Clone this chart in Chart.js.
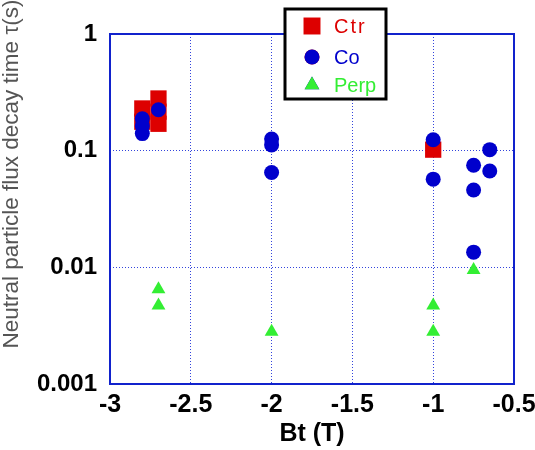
<!DOCTYPE html>
<html>
<head>
<meta charset="utf-8">
<script src="https://cdn.jsdelivr.net/npm/chart.js@4/dist/chart.umd.min.js"></script>
<style>
  body { margin: 0; background: #fff; }
  #wrap { width: 535px; height: 450px; }
</style>
</head>
<body>
<div id="wrap"><canvas id="decay" width="535" height="450"></canvas></div>
<script>
// values
var ctrX = [-2.8, -2.8, -2.7, -2.7, -2.7, -1];
var ctrY = [0.23, 0.177, 0.28, 0.216, 0.17, 0.102];

var coX = [-2.8, -2.8, -2.8, -2.7, -2, -2, -2, -1, -1, -0.75, -0.75, -0.75, -0.65, -0.65];
var coY = [0.188, 0.163, 0.14, 0.224, 0.126, 0.112, 0.065, 0.124, 0.057, 0.075, 0.046, 0.0135, 0.102, 0.067];

var perpX = [-2.7, -2.7, -2, -1, -1, -0.75];
var perpY = [0.0065, 0.0047, 0.0028, 0.0047, 0.0028, 0.0095];

var xTickValues = [-3, -2.5, -2, -1.5, -1, -0.5];
var xTickLabels = ['-3', '-2.5', '-2', '-1.5', '-1', '-0.5'];
var yTickValues = [0.001, 0.01, 0.1, 1];
var yTickLabels = ['0.001', '0.01', '0.1', '1'];

var xTitle = 'Bt (T)';
var yTitle = 'Neutral particle flux decay time \u03c4(s)';

var RED = '#dd0000', BLUE = '#0000cc', GREEN = '#33ee33';
var FONT = "'Liberation Sans', Arial, sans-serif";

function pts(xs, ys) {
  return xs.map(function (x, i) { return { x: x, y: ys[i] }; });
}

// frame, y title and legend box drawn on the canvas
var extras = {
  id: 'extras',
  beforeDatasetsDraw: function (chart) {
    var a = chart.chartArea, c = chart.ctx;
    c.save();
    c.strokeStyle = '#1122cc';
    c.lineWidth = 2;
    c.strokeRect(a.left, a.top, a.right - a.left, a.bottom - a.top);
    c.restore();
  },
  afterDraw: function (chart) {
    var c = chart.ctx;
    c.save();
    c.translate(12, 174);
    c.rotate(-Math.PI / 2);
    c.font = '22.5px ' + FONT;
    c.fillStyle = '#555';
    c.textAlign = 'center';
    c.textBaseline = 'middle';
    c.fillText(yTitle, 0, 0);
    c.restore();

    // legend
    c.save();
    c.fillStyle = '#fff';
    c.fillRect(285, 9, 101, 90);
    c.strokeStyle = '#000';
    c.lineWidth = 3;
    c.strokeRect(285, 9, 101, 90);
    var rows = [26, 57, 85];
    chart.data.datasets.forEach(function (ds, i) {
      var y = rows[i];
      Chart.helpers.drawPoint(c, { pointStyle: ds.pointStyle, radius: ds.legendRadius, borderWidth: 0 }, 312, y);
      c.fillStyle = ds.backgroundColor;
      c.fill();
      c.font = '20px ' + FONT;
      c.textAlign = 'left';
      c.textBaseline = 'middle';
      if ('letterSpacing' in c) c.letterSpacing = ds.label === 'Ctr' ? '2px' : '0px';
      c.fillText(ds.label, 334, y + 1);
    });
    c.restore();
  }
};

new Chart(document.getElementById('decay'), {
  type: 'scatter',
  data: {
    datasets: [
      { label: 'Ctr', data: pts(ctrX, ctrY), pointStyle: 'rect', pointRadius: 11.5, legendRadius: 12,
        backgroundColor: RED, borderWidth: 0, order: 3 },
      { label: 'Co', data: pts(coX, coY), pointStyle: 'circle', pointRadius: 7.5, legendRadius: 7.5,
        backgroundColor: BLUE, borderWidth: 0, order: 2 },
      { label: 'Perp', data: pts(perpX, perpY), pointStyle: 'triangle', pointRadius: 8, legendRadius: 8.5,
        backgroundColor: GREEN, borderWidth: 0, order: 1 }
    ]
  },
  options: {
    responsive: false,
    animation: false,
    layout: { padding: { top: 34, right: 21, left: 0, bottom: 0 } },
    plugins: { legend: { display: false }, tooltip: { enabled: false } },
    scales: {
      x: {
        type: 'linear',
        min: -3, max: -0.5,
        afterBuildTicks: function (s) {
          s.ticks = xTickValues.map(function (v) { return { value: v }; });
        },
        ticks: {
          color: '#000', padding: 6,
          font: { family: FONT, size: 25, weight: 'bold' },
          callback: function (v) { return xTickLabels[xTickValues.indexOf(v)]; }
        },
        grid: { color: '#3344dd', lineWidth: 1, drawTicks: false },
        border: { display: false, dash: [1, 2] },
        title: { display: true, text: xTitle, color: '#000', padding: { top: 0, bottom: 1 },
          font: { family: FONT, size: 25, weight: 'bold' } },
        afterFit: function (s) { s.height = 66; s.paddingLeft = 0; s.paddingRight = 0; }
      },
      y: {
        type: 'logarithmic',
        min: 0.001, max: 1,
        afterBuildTicks: function (s) {
          s.ticks = yTickValues.map(function (v) { return { value: v }; });
        },
        ticks: {
          color: '#000', padding: 13,
          font: { family: FONT, size: 24, weight: 'bold' },
          callback: function (v) { return yTickLabels[yTickValues.indexOf(v)]; }
        },
        grid: { color: '#3344dd', lineWidth: 1, drawTicks: false },
        border: { display: false, dash: [1, 2] },
        afterFit: function (s) { s.width = 110; s.paddingTop = 0; s.paddingBottom = 0; }
      }
    }
  },
  plugins: [extras]
});
</script>
</body>
</html>
